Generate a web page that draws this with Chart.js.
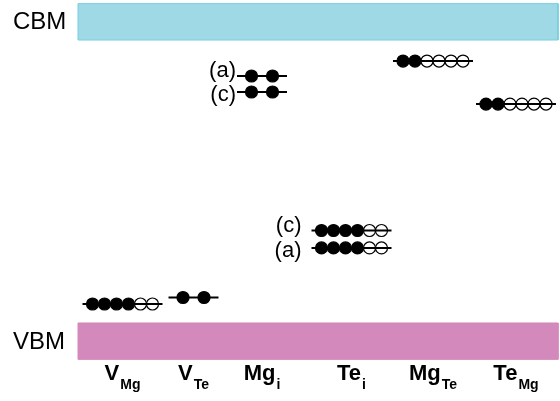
<!DOCTYPE html>
<html>
<head>
<meta charset="utf-8">
<script src="https://cdn.jsdelivr.net/npm/chart.js@4/dist/chart.umd.min.js"></script>
<style>
  body { margin: 0; background: #ffffff; }
  #chart { display: block; }
</style>
</head>
<body>
<canvas id="chart" width="560" height="401"></canvas>
<script>
// defects (label = base + subscript)
var defectBase = ["V", "V", "Mg", "Te", "Mg", "Te"];
var defectSub = ["Mg", "Te", "i", "i", "Te", "Mg"];

// band edges, eV (VBM = 0)
var vbmEnergy = 0;
var cbmEnergy = 3.5;

// defect levels
var levelDefect = [0, 1, 2, 2, 3, 3, 4, 5];
var levelEnergy = [0.235, 0.315, 3.055, 2.857, 1.144, 0.928, 3.24, 2.708];
var levelFilled = [4, 2, 2, 2, 4, 4, 2, 2];
var levelSites = [6, 2, 2, 2, 6, 6, 6, 6];
var levelTag = ["", "", "(a)", "(c)", "(c)", "(a)", "", ""];

// layout (x axis runs 0..560)
var columnX = [122.5, 193.5, 262, 351.5, 433, 516];
var bandLeft = 78, bandRight = 558, bandThick = 0.45;
var FONT = "'Liberation Sans', Arial, Helvetica, sans-serif";

function siteStep(n) { return n > 2 ? 12 : 21; }
function halfLine(n) { return n > 2 ? 40 : 25; }

function bandShape(lo, hi) {
  return [
    { x: bandLeft, y: hi }, { x: bandRight, y: hi },
    { x: bandRight, y: lo }, { x: bandLeft, y: lo }, { x: bandLeft, y: hi }
  ];
}

var datasets = [];

// level lines on top of the circles
levelEnergy.forEach(function (e, i) {
  var cx = columnX[levelDefect[i]];
  var h = halfLine(levelSites[i]);
  datasets.push({
    data: [{ x: cx - h, y: e }, { x: cx + h, y: e }],
    showLine: true,
    borderColor: "#000000",
    borderWidth: 2,
    pointRadius: 0,
    order: 0
  });
});

levelEnergy.forEach(function (e, i) {
  var cx = columnX[levelDefect[i]];
  var n = levelSites[i];
  var step = siteStep(n);
  var pts = [], fills = [];
  for (var k = 0; k < n; k++) {
    pts.push({ x: cx + (k - (n - 1) / 2) * step, y: e });
    fills.push(k < levelFilled[i] ? "#000000" : "#ffffff");
  }
  datasets.push({
    data: pts,
    showLine: false,
    pointRadius: 6,
    pointBorderWidth: 1.2,
    pointBorderColor: "#000000",
    pointBackgroundColor: fills,
    order: 1
  });
});

datasets.push({
  data: bandShape(cbmEnergy, cbmEnergy + bandThick),
  showLine: true,
  fill: "shape",
  backgroundColor: "#9fd9e6",
  borderColor: "#74cfe1",
  borderWidth: 1,
  pointRadius: 0,
  order: 2
});
datasets.push({
  data: bandShape(vbmEnergy - bandThick, vbmEnergy),
  showLine: true,
  fill: "shape",
  backgroundColor: "#d389bb",
  borderColor: "#d389bb",
  borderWidth: 1,
  pointRadius: 0,
  order: 2
});

var textPlugin = {
  id: "texts",
  afterDraw: function (chart) {
    var ctx = chart.ctx;
    var xs = chart.scales.x, ys = chart.scales.y;
    ctx.save();
    ctx.fillStyle = "#000000";

    // band names
    ctx.font = "24px " + FONT;
    ctx.textAlign = "left";
    ctx.textBaseline = "middle";
    ctx.fillText("CBM", 13, ys.getPixelForValue(cbmEnergy + bandThick / 2) + 1);
    ctx.fillText("VBM", 13, ys.getPixelForValue(vbmEnergy - bandThick / 2) + 1);

    // (a)/(c) tags
    ctx.font = "22px " + FONT;
    ctx.textAlign = "right";
    levelTag.forEach(function (t, i) {
      if (!t) return;
      var d = levelDefect[i];
      var n = levelSites[i];
      var other = levelEnergy.filter(function (e, j) { return j !== i && levelDefect[j] === d; })[0];
      var dy = levelEnergy[i] > other ? -5 : 3;
      var x = xs.getPixelForValue(columnX[d] - halfLine(n)) - (n > 2 ? 10 : 1);
      ctx.fillText(t, x, ys.getPixelForValue(levelEnergy[i]) + dy);
    });

    // defect labels with subscripts
    ctx.textAlign = "left";
    ctx.textBaseline = "alphabetic";
    defectBase.forEach(function (b, i) {
      ctx.font = "bold 22px " + FONT;
      var wb = ctx.measureText(b).width;
      ctx.font = "bold 14px " + FONT;
      var ws = ctx.measureText(defectSub[i]).width;
      var x0 = xs.getPixelForValue(columnX[i]) - (wb + ws + 1) / 2;
      ctx.font = "bold 22px " + FONT;
      ctx.fillText(b, x0, 380);
      ctx.font = "bold 14px " + FONT;
      ctx.fillText(defectSub[i], x0 + wb + 1, 389);
    });
    ctx.restore();
  }
};

new Chart(document.getElementById("chart"), {
  type: "scatter",
  data: { datasets: datasets },
  options: {
    responsive: false,
    animation: false,
    layout: { padding: 0, autoPadding: false },
    plugins: { legend: { display: false }, tooltip: { enabled: false } },
    scales: {
      x: { type: "linear", min: 0, max: 560, display: false },
      y: { type: "linear", min: -0.965, max: 3.995, display: false }
    }
  },
  plugins: [textPlugin]
});
</script>
</body>
</html>
